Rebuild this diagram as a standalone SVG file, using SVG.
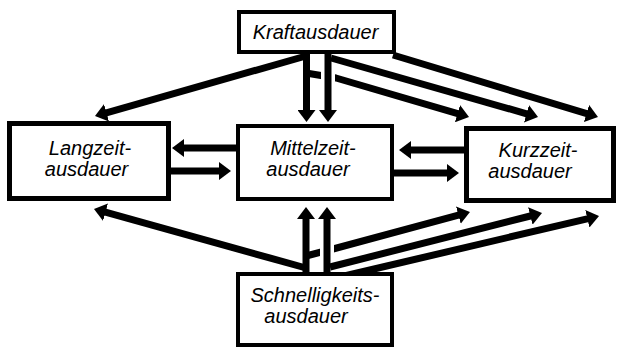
<svg xmlns="http://www.w3.org/2000/svg" width="618" height="348" viewBox="0 0 618 348">
  <style>
    .box { fill: #fff; stroke: #000; stroke-width: 4; }
    .heavy { stroke-width: 5; }
    .lbl { font-family: "Liberation Sans", Arial, sans-serif; font-style: italic; font-size: 20px; fill: #000; text-anchor: middle; }
    .arr { fill: none; stroke: #000; stroke-width: 7; stroke-linejoin: round; marker-end: url(#head); }
    .gap { fill: none; stroke: #fff; stroke-width: 14; }
  </style>
  <defs>
    <marker id="head" viewBox="0 0 12 18" refX="2" refY="9" markerWidth="12" markerHeight="18" markerUnits="userSpaceOnUse" orient="auto">
      <path d="M0,0 L12,9 L0,18 Z" fill="#000"/>
    </marker>
  </defs>

  <rect x="0" y="0" width="618" height="348" fill="#fff"/>

  <g id="connectors">
    <!-- from Kraftausdauer -->
    <path class="arr" d="M306,56 L104.6,113.3"/>
    <path class="arr" d="M306,73 L336,78 L459.4,114.2"/>
    <path class="arr" d="M331,58 L528.4,114.3"/>
    <path class="arr" d="M393,55 L588.4,114.1"/>
    <path class="arr" d="M306.5,53 L306.5,112"/>
    <path class="gap" d="M328,66 L328,90"/>
    <path class="arr" d="M328,53 L328,112"/>

    <!-- between the middle row -->
    <path class="arr" d="M236,148 L182,148"/>
    <path class="arr" d="M171,171 L221,171"/>
    <path class="arr" d="M464,150 L409,150"/>
    <path class="arr" d="M394,173 L449,173"/>

    <!-- from Schnelligkeitsausdauer -->
    <path class="arr" d="M306,268 L103.6,211.7"/>
    <path class="arr" d="M306,256 L333,249 L460.3,214.6"/>
    <path class="arr" d="M330,267 L532.3,215.5"/>
    <path class="arr" d="M340,277 L589.3,218.3"/>
    <path class="arr" d="M306,276 L306,217"/>
    <path class="gap" d="M327,238 L327,260"/>
    <path class="arr" d="M327,276 L327,217"/>
  </g>

  <g id="kraftausdauer">
    <rect class="box" x="239" y="12" width="155" height="40"/>
    <text class="lbl" x="315.5" y="39" font-size="21">Kraftausdauer</text>
  </g>

  <g id="langzeitausdauer">
    <rect class="box heavy" x="9.5" y="123.5" width="159" height="75"/>
    <text class="lbl" x="90" y="155">Langzeit-</text>
    <text class="lbl" x="86.5" y="176">ausdauer</text>
  </g>

  <g id="mittelzeitausdauer">
    <rect class="box" x="238" y="126" width="154" height="73"/>
    <text class="lbl" x="313" y="155">Mittelzeit-</text>
    <text class="lbl" x="308" y="176">ausdauer</text>
  </g>

  <g id="kurzzeitausdauer">
    <rect class="box heavy" x="466.5" y="128.5" width="147" height="72"/>
    <text class="lbl" x="538" y="157">Kurzzeit-</text>
    <text class="lbl" x="530" y="178">ausdauer</text>
  </g>

  <g id="schnelligkeitsausdauer">
    <rect class="box" x="238" y="274" width="154" height="71"/>
    <text class="lbl" x="315" y="302">Schnelligkeits-</text>
    <text class="lbl" x="306" y="323">ausdauer</text>
  </g>
</svg>
